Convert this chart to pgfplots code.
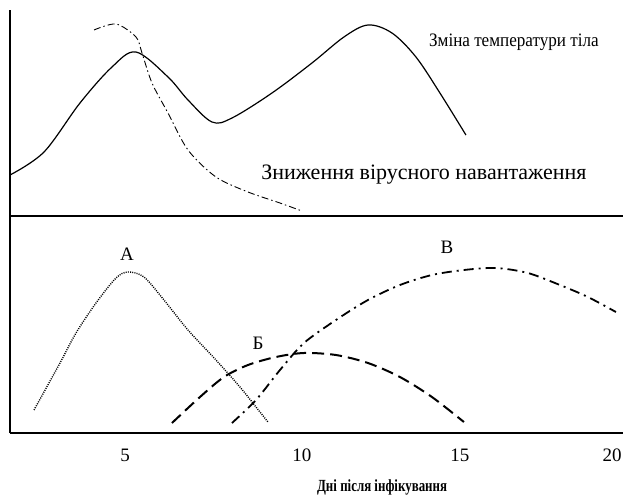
\documentclass[border=0pt]{standalone}
\usepackage{fontspec}
\setmainfont{Liberation Serif}
\usepackage{graphicx}
\usepackage{pgfplots}
\pgfplotsset{compat=1.18}
\begin{document}
\begin{tikzpicture}
\path[use as bounding box] (0pt,0pt) rectangle (623pt,499pt);
% ---------------- top panel ----------------
\begin{axis}[
  at={(10pt,283pt)}, anchor=south west,
  scale only axis, width=613pt, height=206pt,
  xmin=1.235, xmax=20.17, ymin=0, ymax=206,
  axis x line=bottom, axis y line=left,
  x axis line style={-, line width=2.5pt},
  y axis line style={-, line width=1.2pt},
  xtick=\empty, ytick=\empty,
  clip=false,
]
\addplot[black, line width=1.2pt, smooth, tension=0.55] coordinates {
(1.235,41) (2.285,64) (3.397,113) (4.385,149) (5.127,164) (6.115,139)
(6.733,116) (7.474,94) (8.091,98) (9.327,123) (10.562,153) (11.550,179)
(12.292,191) (13.033,183) (13.774,159) (14.515,123) (15.318,81)
};
\addplot[black, line width=0.9pt, smooth, tension=0.5,
  dash pattern=on 7pt off 3pt on 1.5pt off 3pt] coordinates {
(3.830,186) (4.509,192) (5.127,179) (5.312,163) (5.621,133) (6.115,103)
(6.733,66) (7.597,39) (8.586,24) (9.574,13) (10.253,5)
};
\node[font=\fontsize{19}{19}\selectfont] at (axis cs:16.80,174) {\scalebox{0.9}[1]{Зміна температури тіла}};
\node[font=\fontsize{22}{22}\selectfont] at (axis cs:14.02,41) {Зниження вірусного навантаження};
\end{axis}
% ---------------- bottom panel ----------------
\begin{axis}[
  at={(10pt,66pt)}, anchor=south west,
  scale only axis, width=613pt, height=217pt,
  xmin=1.235, xmax=20.17, ymin=0, ymax=217,
  axis x line=bottom, axis y line=left,
  x axis line style={-, line width=2.5pt},
  y axis line style={-, line width=1.2pt},
  xtick={4.79,10.25,15.13,19.83}, xticklabels={5,10,15,20}, ytick=\empty,
  major tick length=0pt,
  xticklabel style={font=\fontsize{19}{19}\selectfont, anchor=center, yshift=-22pt},
  xlabel={\scalebox{0.76}[1]{\bfseries Дні після інфікування}},
  xlabel style={font=\fontsize{17}{17}\selectfont, at={(rel axis cs:0.607,-0.249)}, anchor=center},
  clip=false,
]
\addplot[black, line width=1.4pt, smooth, tension=0.5,
  dash pattern=on 1pt off 1.2pt] coordinates {
(1.977,23) (2.779,70) (3.274,100) (3.891,130) (4.509,155) (4.880,161)
(5.374,156) (5.991,133) (6.733,103) (7.597,73) (8.339,46) (8.833,26) (9.203,11)
};
\addplot[black, line width=2pt, smooth, tension=0.5,
  dash pattern=on 12pt off 6pt] coordinates {
(6.238,10) (7.103,36) (7.844,56) (8.586,68) (9.450,76) (10.315,80)
(11.303,78) (12.292,70) (13.280,56) (14.268,36) (15.256,11)
};
\addplot[black, line width=1.8pt, smooth, tension=0.5,
  dash pattern=on 10pt off 5pt on 2pt off 5pt] coordinates {
(8.091,10) (8.833,33) (9.574,63) (10.315,90) (11.303,113) (12.292,133)
(13.280,148) (14.268,158) (15.256,163) (16.244,165) (17.233,160)
(18.221,148) (19.086,136) (19.951,121)
};
\node[font=\fontsize{19}{19}\selectfont] at (axis cs:4.849,179) {А};
\node[font=\fontsize{19}{19}\selectfont] at (axis cs:8.894,90) {Б};
\node[font=\fontsize{19}{19}\selectfont] at (axis cs:14.731,186) {В};
\end{axis}
\end{tikzpicture}
\end{document}
